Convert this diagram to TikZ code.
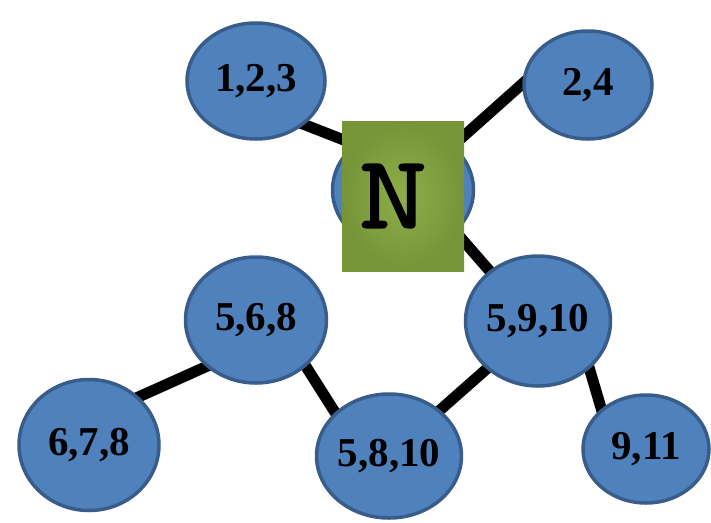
\documentclass[tikz,border=0pt]{standalone}
\usepackage{fontspec}
\setmainfont{Liberation Serif}
\newfontfamily\nfont[FakeBold=1.6,FakeStretch=1.25]{lmmono10-regular.otf}
\usetikzlibrary{shapes.geometric,calc,backgrounds}
\definecolor{nodeblue}{RGB}{79,129,189}
\definecolor{nodeedge}{RGB}{56,93,138}
\definecolor{greenin}{RGB}{142,175,73}
\definecolor{greenout}{RGB}{118,148,56}
\tikzset{
  blob/.style={ellipse, fill=nodeblue, draw=nodeedge, line width=3.5pt, inner sep=0pt,
    font=\bfseries\fontsize{41}{41}\selectfont},
  link/.style={line width=11pt, black},
  greensq/.style={rectangle, minimum width=122pt, minimum height=150pt, inner sep=0pt,
    inner color=greenin, outer color=greenout,
    font=\nfont\fontsize{104}{104}\selectfont}
}
\begin{document}
\begin{tikzpicture}[x=1pt,y=-1pt]
\useasboundingbox (0,0) rectangle (711,522);
% nodes
\node[blob, minimum width=138pt, minimum height=116pt] (n123) at (256,81) {1,2,3};
\node[blob, minimum width=128pt, minimum height=108pt] (n24) at (588,85) {2,4};
\node[blob, minimum width=141pt, minimum height=122pt] (c) at (403,190) {};
\node[blob, minimum width=141pt, minimum height=126pt] (n568) at (256,320) {5,6,8};
\node[blob, minimum width=139pt, minimum height=130pt] (n5910) at (538,321) {5,9,10};
\node[blob, minimum width=140pt, minimum height=131pt] (n678) at (89,445) {6,7,8};
\node[blob, minimum width=142pt, minimum height=124pt] (n5810) at (389,456) {5,8,10};
\node[blob, minimum width=126pt, minimum height=108pt] (n911) at (646,449) {9,11};
\node[greensq] (N) at (403,196) {\hspace*{-20pt}N};
% connectors
\begin{pgfonlayer}{background}
\coordinate (a1) at ($(c)+(-3,-28)$);
\coordinate (a2) at ($(c)+(17,-15)$);
\coordinate (a3) at ($(c)+(17,1)$);
\draw[link] ($(n123.-42)!-8pt!(a1)$) -- (a1);
\draw[link] ($(n24.179)!-8pt!(a2)$) -- (a2);
\draw[link] ($(n5910.134)!-8pt!(a3)$) -- (a3);
\draw[link] ($(n568.-137)!-8pt!(n678.44)$) -- ($(n678.44)!-8pt!(n568.-137)$);
\draw[link] ($(n568.-43)!-8pt!(n5810.141)$) -- ($(n5810.141)!-8pt!(n568.-43)$);
\draw[link] ($(n5910.-137)!-8pt!(n5810.42)$) -- ($(n5810.42)!-8pt!(n5910.-137)$);
\draw[link] ($(n5910.-43)!-8pt!(n911.138)$) -- ($(n911.138)!-8pt!(n5910.-43)$);
\end{pgfonlayer}
\end{tikzpicture}
\end{document}
